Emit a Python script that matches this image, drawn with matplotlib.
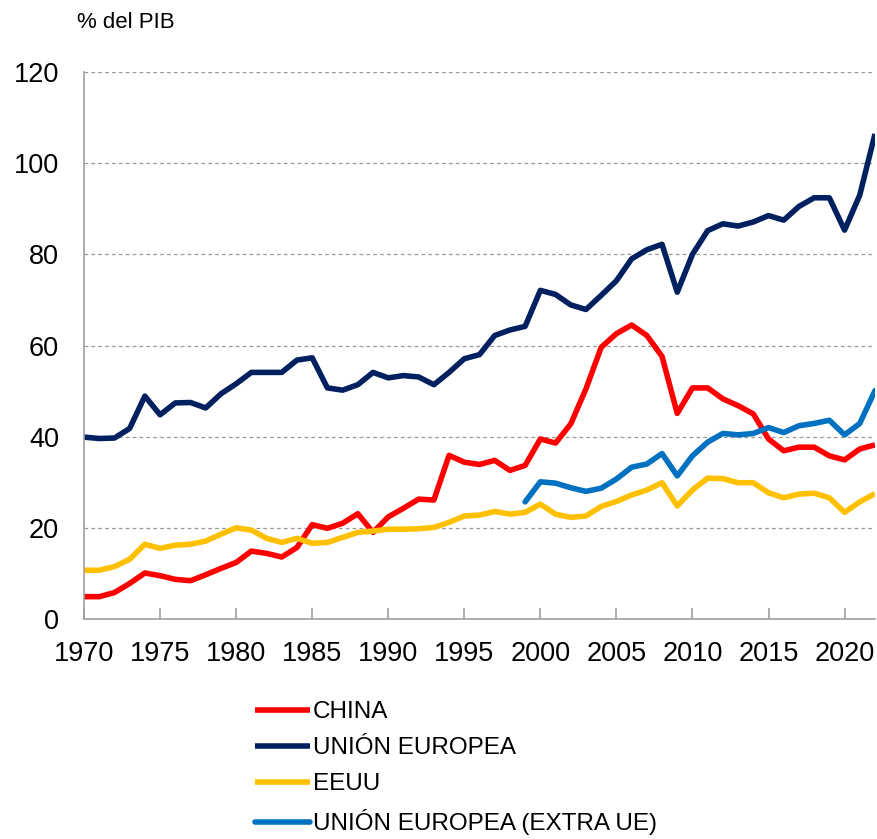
import numpy as np
import matplotlib
matplotlib.use("Agg")
import matplotlib.pyplot as plt

plt.rcParams['font.family'] = ['Liberation Sans', 'DejaVu Sans']

# % del PIB, 1970-2022
years = list(range(1970, 2023))
china = [4.9, 4.9, 5.8, 7.8, 10.1, 9.5, 8.7, 8.4, 9.7, 11.1,
         12.4, 14.9, 14.4, 13.6, 15.7, 20.7, 19.9, 21.0, 23.1, 19.0,
         22.4, 24.3, 26.3, 26.1, 35.9, 34.4, 33.9, 34.8, 32.6, 33.7,
         39.5, 38.6, 42.8, 50.5, 59.6, 62.6, 64.5, 62.2, 57.6, 45.1,
         50.7, 50.7, 48.3, 46.8, 45.0, 39.5, 36.9, 37.7, 37.7, 35.8,
         34.9, 37.3, 38.2]
ue = [39.9, 39.6, 39.7, 41.8, 48.9, 44.8, 47.4, 47.5, 46.3, 49.4,
      51.6, 54.1, 54.1, 54.1, 56.8, 57.3, 50.7, 50.2, 51.4, 54.1,
      52.9, 53.4, 53.1, 51.4, 54.1, 57.1, 58.0, 62.2, 63.4, 64.2,
      72.1, 71.2, 68.9, 67.9, 71.0, 74.2, 79.0, 81.0, 82.2, 71.7,
      80.0, 85.2, 86.7, 86.2, 87.1, 88.5, 87.5, 90.5, 92.4, 92.4,
      85.3, 93.0, 106.4]
eeuu = [10.7, 10.7, 11.5, 13.1, 16.4, 15.5, 16.2, 16.4, 17.1, 18.6,
        20.0, 19.5, 17.7, 16.8, 17.7, 16.6, 16.8, 17.9, 19.0, 19.3,
        19.7, 19.7, 19.8, 20.1, 21.2, 22.6, 22.8, 23.6, 23.0, 23.4,
        25.2, 23.0, 22.3, 22.6, 24.7, 25.8, 27.2, 28.3, 29.9, 24.8,
        28.3, 30.9, 30.8, 29.9, 29.9, 27.7, 26.6, 27.4, 27.6, 26.6,
        23.4, 25.7, 27.5]
years_extra = list(range(1999, 2023))
ue_extra = [25.7, 30.1, 29.8, 28.8, 28.0, 28.7, 30.7, 33.3, 34.0, 36.3,
            31.4, 35.8, 38.8, 40.7, 40.4, 40.7, 42.0, 40.9, 42.4, 42.9,
            43.6, 40.4, 42.9, 50.1]

fig = plt.figure(figsize=(8.77, 8.39), dpi=100)
ax = fig.add_axes([0.0958, 0.2622, 0.9019, 0.652])

lw = 4
ax.plot(years, china, color='#FF0000', lw=lw, label='CHINA', solid_capstyle='butt')
ax.plot(years, ue, color='#002060', lw=lw, label='UNIÓN EUROPEA', solid_capstyle='butt')
ax.plot(years, eeuu, color='#FFC000', lw=lw, label='EEUU', solid_capstyle='butt')
ax.plot(years_extra, ue_extra, color='#0070C0', lw=lw,
        label='UNIÓN EUROPEA (EXTRA UE)', solid_capstyle='round')

ax.set_xlim(1970, 2022)
ax.set_ylim(0, 120)
ax.set_xticks(range(1970, 2021, 5))
ax.set_yticks(range(0, 121, 20))
ax.yaxis.grid(True, linestyle=(0, (3, 2.5)), color='#999999', lw=0.9)
ax.set_axisbelow(True)

for s in ['top', 'right']:
    ax.spines[s].set_visible(False)
for s in ['left', 'bottom']:
    ax.spines[s].set_color('#a0a0a0')
    ax.spines[s].set_linewidth(1.2)

ax.tick_params(axis='x', direction='in', length=8, color='#a0a0a0', width=1.2,
               labelsize=19.5, pad=16)
ax.tick_params(axis='y', length=0, labelsize=19.5, pad=18)

fig.text(77 / 877, 1 - 22 / 839, '% del PIB', fontsize=16, va='center', ha='left')

fig.legend(loc='upper left', bbox_to_anchor=(255 / 877, 1 - 701 / 839),
           frameon=False, fontsize=17.5, handlelength=2.25, handletextpad=0.12,
           labelspacing=0.58, borderpad=0, borderaxespad=0)

fig.savefig('out.png', dpi=100)
